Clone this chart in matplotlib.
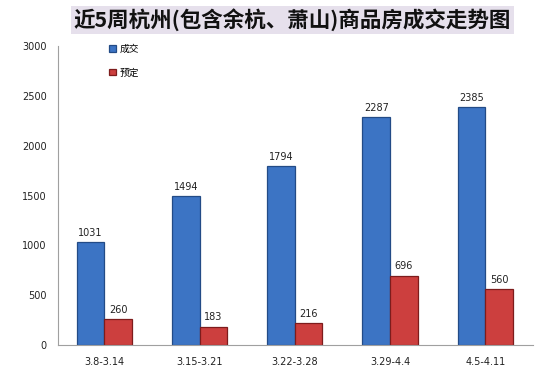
import matplotlib
matplotlib.use('Agg')
import matplotlib.pyplot as plt
import numpy as np

plt.rcParams['font.family'] = ['Noto Sans CJK SC', 'DejaVu Sans']

# data
weeks = ['3.8-3.14', '3.15-3.21', '3.22-3.28', '3.29-4.4', '4.5-4.11']
deals = [1031, 1494, 1794, 2287, 2385]
booked = [260, 183, 216, 696, 560]

fig = plt.figure(figsize=(5.6, 3.7), dpi=100)
ax = fig.add_axes([0.1036, 0.0676, 0.848, 0.808])

x = np.arange(len(weeks))
w = 0.29
b1 = ax.bar(x - w / 2, deals, w, color='#3C74C4', edgecolor='#234B86', linewidth=0.9, label='成交')
b2 = ax.bar(x + w / 2, booked, w, color='#CC3F3E', edgecolor='#7D1C1C', linewidth=0.9, label='预定')

for bars in (b1, b2):
    for bar in bars:
        h = bar.get_height()
        ax.text(bar.get_x() + bar.get_width() / 2, h + 45, f'{int(h)}',
                ha='center', va='bottom', fontsize=7, color='#222222', family='DejaVu Sans')

ax.set_xlim(-0.488, 4.5)
ax.set_ylim(0, 3000)
ax.set_yticks(range(0, 3001, 500))
ax.set_xticks(x)
ax.set_xticklabels(weeks)
ax.tick_params(axis='x', labelsize=7, length=0, pad=9)
ax.tick_params(axis='y', labelsize=7, length=0, pad=8)
for lab in ax.get_xticklabels() + ax.get_yticklabels():
    lab.set_family('DejaVu Sans')
    lab.set_color('#222222')
for s in ('top', 'right'):
    ax.spines[s].set_visible(False)
for s in ('left', 'bottom'):
    ax.spines[s].set_color('#A0A0A0')

ax.legend(loc='upper left', bbox_to_anchor=(0.089, 1.037), frameon=False, fontsize=7,
          handlelength=0.7, handleheight=0.7, labelspacing=1.4, handletextpad=0.4)

fig.text(0.522, 0.946, '近5周杭州(包含余杭、萧山)商品房成交走势图', ha='center', va='center',
         fontsize=15.5, fontweight='bold', color='#111111',
         bbox=dict(boxstyle='square,pad=0.12', facecolor='#E6E0EC', edgecolor='none'))

fig.savefig('out.png', dpi=100)
